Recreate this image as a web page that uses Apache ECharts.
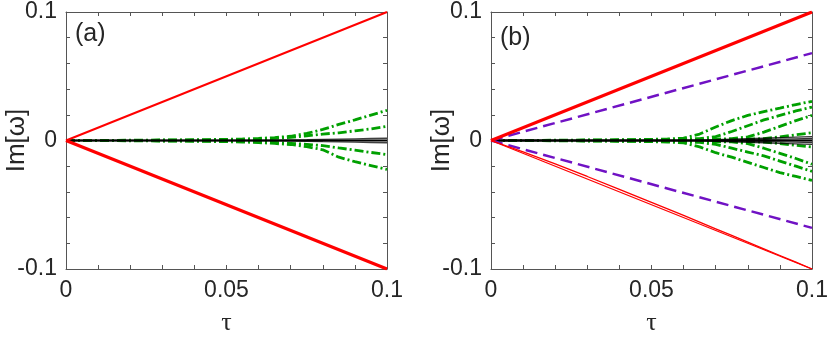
<!DOCTYPE html>
<html>
<head>
<meta charset="utf-8">
<script src="https://cdn.jsdelivr.net/npm/echarts@6/dist/echarts.min.js"></script>
<style>
  html, body { margin: 0; padding: 0; background: #fff; }
  #main { width: 830px; height: 337px; }
</style>
</head>
<body>
<div id="main"></div>
<script>
    // sample points in tau, shared by the curved series
    var tau = [0, 0.01, 0.02, 0.03, 0.04, 0.05, 0.055, 0.06, 0.065, 0.07, 0.075, 0.08, 0.085, 0.09, 0.095, 0.1];
    var tauEnds = [0, 0.1];

    var xTickLabels = ['0', '0.05', '0.1'];
    var yTickLabels = ['-0.1', '0', '0.1'];

    // panel (a)
    var aRedUp = [0, 0.1];
    var aRedDown = [0, -0.1];
    var aZero = [0, 0];
    var aGreen1 = [0, 0.0001, 0.0002, 0.0004, 0.0006, 0.0009, 0.0012, 0.0016, 0.0023, 0.0033, 0.0055, 0.0086, 0.0125, 0.016, 0.0198, 0.0235];
    var aGreen2 = [0, 0.0001, 0.0001, 0.0002, 0.0003, 0.0005, 0.0007, 0.001, 0.0016, 0.0025, 0.0037, 0.005, 0.006, 0.0075, 0.009, 0.011];
    var aGreen3 = [0, -0.0001, -0.0001, -0.0002, -0.0003, -0.0005, -0.0007, -0.001, -0.0015, -0.0022, -0.003, -0.004, -0.0058, -0.0075, -0.0093, -0.011];
    var aGreen4 = [0, -0.0001, -0.0002, -0.0004, -0.0006, -0.0009, -0.0012, -0.0016, -0.0023, -0.0031, -0.0048, -0.0072, -0.013, -0.0165, -0.0195, -0.0225];
    var aBlack1 = [0, 0, 0, 0, 0, 0, 0, 0, 0.0002, 0.0004, 0.0006, 0.0009, 0.0011, 0.0013, 0.0015, 0.0017];
    var aBlack2 = [0, 0, 0, 0, 0, 0, 0, 0, -0.0002, -0.0004, -0.0006, -0.0009, -0.0011, -0.0013, -0.0015, -0.0017];

    // panel (b)
    var bRedUp = [0, 0.1];
    var bRedDown1 = [0, -0.1];
    var bRedDown2 = [0, -0.0088, -0.0182, -0.028, -0.038, -0.0481, -0.0532, -0.0583, -0.0635, -0.0687, -0.0739, -0.0791, -0.0843, -0.0895, -0.0947, -0.1];
    var bPurpleUp = [0, 0.068];
    var bPurpleDown = [0, -0.068];
    var bZero = [0, 0];
    var bGreen1 = [0, 0.0001, 0.0002, 0.0004, 0.0006, 0.0009, 0.0012, 0.0019, 0.005, 0.0105, 0.0155, 0.0195, 0.0225, 0.0252, 0.028, 0.0305];
    var bGreen2 = [0, 0.0001, 0.0001, 0.0002, 0.0003, 0.0005, 0.0007, 0.001, 0.0015, 0.003, 0.007, 0.0115, 0.016, 0.0195, 0.023, 0.026];
    var bGreen3 = [0, 0, 0.0001, 0.0001, 0.0002, 0.0003, 0.0004, 0.0006, 0.0008, 0.001, 0.0015, 0.0028, 0.0065, 0.011, 0.0155, 0.0195];
    var bGreen4 = [0, 0, 0, 0.0001, 0.0001, 0.0002, 0.0002, 0.0003, 0.0004, 0.0005, 0.0007, 0.001, 0.0015, 0.0028, 0.0045, 0.006];
    var bGreen5 = [0, 0, 0, -0.0001, -0.0001, -0.0002, -0.0002, -0.0003, -0.0004, -0.0005, -0.0007, -0.001, -0.0012, -0.0025, -0.0038, -0.005];
    var bGreen6 = [0, 0, -0.0001, -0.0001, -0.0002, -0.0003, -0.0004, -0.0006, -0.0008, -0.001, -0.001, -0.0025, -0.006, -0.01, -0.014, -0.0185];
    var bGreen7 = [0, -0.0001, -0.0001, -0.0002, -0.0003, -0.0005, -0.0007, -0.001, -0.0015, -0.003, -0.006, -0.009, -0.012, -0.016, -0.02, -0.024];
    var bGreen8 = [0, -0.0001, -0.0002, -0.0004, -0.0006, -0.0009, -0.0012, -0.0019, -0.005, -0.0095, -0.013, -0.017, -0.021, -0.025, -0.028, -0.031];
    var bBlack1 = [0, 0, 0, 0, 0, 0, 0, 0, 0.0003, 0.0006, 0.001, 0.0014, 0.0018, 0.0022, 0.0026, 0.003];
    var bBlack2 = [0, 0, 0, 0, 0, 0, 0, 0, 0.0002, 0.0003, 0.0005, 0.0007, 0.0009, 0.0011, 0.0013, 0.0015];
    var bBlack3 = [0, 0, 0, 0, 0, 0, 0, 0, -0.0002, -0.0003, -0.0005, -0.0007, -0.0009, -0.0011, -0.0013, -0.0015];
    var bBlack4 = [0, 0, 0, 0, 0, 0, 0, 0, -0.0003, -0.0006, -0.001, -0.0014, -0.0018, -0.0022, -0.0026, -0.003];

    var RED = '#ff0000';
    var GREEN = '#00a000';
    var PURPLE = '#7012c4';
    var BLACK = '#000000';
    var DASHDOT = [9, 3, 2, 3];
    var DASHED = [12, 6];
    var FONT = "'Liberation Sans', Arial, sans-serif";
    var FRAME = '#555555';
    var TEXT = '#262626';

    function zip(xs, ys) {
        var out = [];
        for (var i = 0; i < xs.length; i++) out.push([xs[i], ys[i]]);
        return out;
    }

    function line(panel, xs, ys, color, width, type, opacity) {
        return {
            type: 'line',
            xAxisIndex: panel * 2,
            yAxisIndex: panel * 2,
            data: zip(xs, ys),
            showSymbol: false,
            symbol: 'none',
            silent: true,
            animation: false,
            lineStyle: { color: color, width: width, type: type || 'solid', opacity: opacity || 1 }
        };
    }

    function pickLabel(list) {
        return function(v) {
            for (var i = 0; i < list.length; i++) {
                if (Math.abs(v - parseFloat(list[i])) < 1e-9) return list[i];
            }
            return '';
        };
    }

    function xAxes(grid) {
        var common = {
            type: 'value', gridIndex: grid, min: 0, max: 0.1, interval: 0.01,
            axisLine: { show: true, onZero: false, lineStyle: { color: FRAME, width: 1 } },
            axisTick: { show: true, inside: true, length: 4, lineStyle: { color: FRAME } },
            splitLine: { show: false }
        };
        var bottom = echarts.util.merge({
            position: 'bottom',
            name: 'τ', nameLocation: 'middle', nameGap: 41, nameMoveOverlap: false,
            nameTextStyle: { fontFamily: "'Liberation Serif', serif", fontSize: 26, color: TEXT },
            axisLabel: { show: true, formatter: pickLabel(xTickLabels), margin: 10,
                fontFamily: FONT, fontSize: 23, color: TEXT }
        }, common, true);
        var top = echarts.util.merge({ position: 'top', axisLabel: { show: false } }, common, true);
        return [bottom, top];
    }

    function yAxes(grid) {
        var common = {
            type: 'value', gridIndex: grid, min: -0.1, max: 0.1, interval: 0.02,
            axisLine: { show: true, onZero: false, lineStyle: { color: FRAME, width: 1 } },
            axisTick: { show: true, inside: true, length: 4, lineStyle: { color: FRAME } },
            splitLine: { show: false }
        };
        var left = echarts.util.merge({
            position: 'left',
            name: 'Im[ω]', nameLocation: 'middle', nameGap: 36, nameRotate: 90, nameMoveOverlap: false,
            nameTextStyle: { fontFamily: FONT, fontSize: 26, color: TEXT },
            axisLabel: { show: true, formatter: pickLabel(yTickLabels), margin: 9,
                padding: [6, 0, 0, 0], fontFamily: FONT, fontSize: 23, color: TEXT }
        }, common, true);
        var right = echarts.util.merge({ position: 'right', axisLabel: { show: false } }, common, true);
        return [left, right];
    }

    var series = [
        // (a) green first so the black zero line sits on top
        line(0, tau, aGreen1, GREEN, 2.8, DASHDOT),
        line(0, tau, aGreen2, GREEN, 2.8, DASHDOT),
        line(0, tau, aGreen3, GREEN, 2.8, DASHDOT),
        line(0, tau, aGreen4, GREEN, 2.8, DASHDOT),
        line(0, tau, aBlack1, BLACK, 1.4, 'solid', 0.75),
        line(0, tau, aBlack2, BLACK, 1.4, 'solid', 0.75),
        line(0, tauEnds, aZero, BLACK, 2),
        line(0, tauEnds, aRedUp, RED, 2),
        line(0, tauEnds, aRedDown, RED, 3.2),

        // (b)
        line(1, tau, bGreen1, GREEN, 2.8, DASHDOT),
        line(1, tau, bGreen2, GREEN, 2.8, DASHDOT),
        line(1, tau, bGreen3, GREEN, 2.8, DASHDOT),
        line(1, tau, bGreen4, GREEN, 2.8, DASHDOT),
        line(1, tau, bGreen5, GREEN, 2.8, DASHDOT),
        line(1, tau, bGreen6, GREEN, 2.8, DASHDOT),
        line(1, tau, bGreen7, GREEN, 2.8, DASHDOT),
        line(1, tau, bGreen8, GREEN, 2.8, DASHDOT),
        line(1, tau, bBlack1, BLACK, 1.4, 'solid', 0.8),
        line(1, tau, bBlack2, BLACK, 1.4, 'solid', 0.8),
        line(1, tau, bBlack3, BLACK, 1.4, 'solid', 0.8),
        line(1, tau, bBlack4, BLACK, 1.4, 'solid', 0.8),
        line(1, tauEnds, bZero, BLACK, 2.2),
        line(1, tauEnds, bPurpleUp, PURPLE, 2.5, DASHED),
        line(1, tauEnds, bPurpleDown, PURPLE, 2.5, DASHED),
        line(1, tauEnds, bRedDown1, RED, 1.3),
        line(1, tau, bRedDown2, RED, 1.3),
        line(1, tauEnds, bRedUp, RED, 3)
    ];

    var chart = echarts.init(document.getElementById('main'), null, { renderer: 'canvas' });
    chart.setOption({
        backgroundColor: '#ffffff',
        animation: false,
        grid: [
            { left: 66, top: 12, width: 321, height: 257, containLabel: false, outerBoundsMode: 'none' },
            { left: 491, top: 12, width: 321, height: 257, containLabel: false, outerBoundsMode: 'none' }
        ],
        xAxis: xAxes(0).concat(xAxes(1)),
        yAxis: yAxes(0).concat(yAxes(1)),
        series: series,
        graphic: [
            { type: 'text', left: 75, top: 22, style: { text: '(a)', font: '25px ' + FONT, fill: TEXT } },
            { type: 'text', left: 500, top: 26, style: { text: '(b)', font: '25px ' + FONT, fill: TEXT } }
        ]
    });
</script>
</body>
</html>
